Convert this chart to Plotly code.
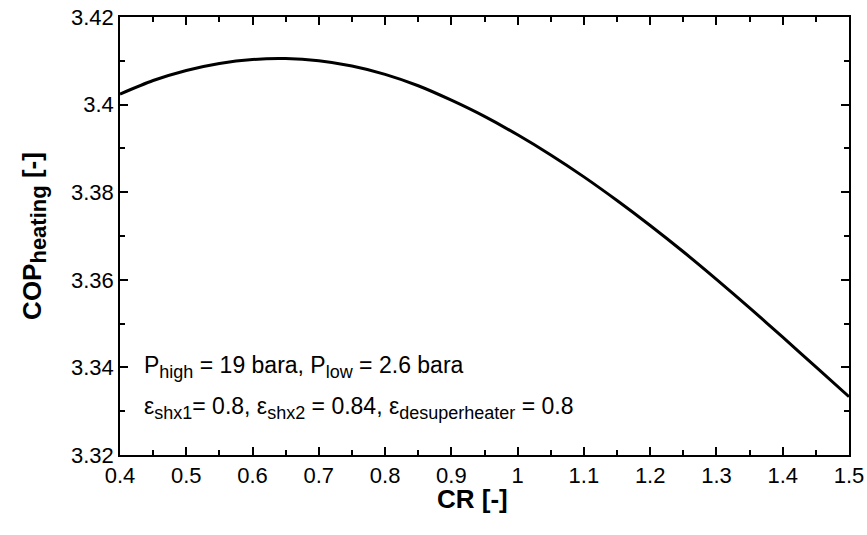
import plotly.graph_objects as go

cr = [0.40, 0.45, 0.50, 0.55, 0.60, 0.65, 0.70, 0.75, 0.80, 0.85, 0.90, 0.95,
      1.00, 1.05, 1.10, 1.15, 1.20, 1.25, 1.30, 1.35, 1.40, 1.45, 1.50]
cop = [3.4024, 3.4055, 3.4078, 3.4094, 3.4103, 3.4105, 3.4100, 3.4088, 3.4069,
       3.4043, 3.4010, 3.3973, 3.3931, 3.3885, 3.3835, 3.3781, 3.3724, 3.3664,
       3.3601, 3.3536, 3.3469, 3.3401, 3.3333]

x_ticks = [0.4, 0.5, 0.6, 0.7, 0.8, 0.9, 1.0, 1.1, 1.2, 1.3, 1.4, 1.5]
y_ticks = [3.32, 3.34, 3.36, 3.38, 3.40, 3.42]

FONT = "Liberation Sans, Arial, sans-serif"


def sub(t, px):
    return f"<sub><span style='font-size:{px}px'>{t}</span></sub>"


fig = go.Figure()
fig.add_trace(go.Scatter(x=cr, y=cop, mode="lines",
                         line=dict(color="black", width=3, shape="spline", smoothing=0.8),
                         showlegend=False))

axis_common = dict(
    showgrid=False, zeroline=False, showline=True, linecolor="black", linewidth=1.5,
    ticks="inside", ticklen=8, tickwidth=1.5, tickcolor="black", mirror="allticks",
    tickfont=dict(family=FONT, size=22, color="black"), automargin=False,
    ticklabeloverflow="allow",
)

fig.update_xaxes(range=[0.4, 1.5], tickvals=x_ticks, ticktext=[f"{v:g}" for v in x_ticks],
                 minor=dict(dtick=0.05, ticklen=5, tickwidth=1.5, ticks="inside", tickcolor="black"),
                 **axis_common)
fig.update_yaxes(range=[3.32, 3.42], tickvals=y_ticks, ticktext=[f"{v:g}" for v in y_ticks],
                 minor=dict(dtick=0.01, ticklen=5, tickwidth=1.5, ticks="inside", tickcolor="black"),
                 title=dict(text="<b>COP" + sub("heating", 22) + " [-]</b>",
                            font=dict(family=FONT, size=26, color="black"), standoff=22),
                 **axis_common)

# x-axis title (placed as annotation to match its offset in the reference)
fig.add_annotation(x=0.483, y=-0.1, xref="paper", yref="paper", xanchor="center", yanchor="middle",
                   showarrow=False, text="<b>CR [-]</b>",
                   font=dict(family=FONT, size=26, color="black"))

fig.add_annotation(x=0.433, y=3.34, xref="x", yref="y", xanchor="left", yanchor="middle",
                   showarrow=False,
                   text="P" + sub("high", 18) + " = 19 bara, P" + sub("low", 18) + " = 2.6 bara",
                   font=dict(family=FONT, size=23, color="black"))
fig.add_annotation(x=0.433, y=3.3307, xref="x", yref="y", xanchor="left", yanchor="middle",
                   showarrow=False,
                   text="ε" + sub("shx1", 18) + "= 0.8, ε" + sub("shx2", 18) + " = 0.84, ε"
                        + sub("desuperheater", 18) + " = 0.8",
                   font=dict(family=FONT, size=23, color="black"))

fig.update_layout(width=867, height=535, margin=dict(l=120, r=18, t=17, b=80),
                  plot_bgcolor="white", paper_bgcolor="white",
                  font=dict(family=FONT, color="black"))

fig.write_html("out.html")
